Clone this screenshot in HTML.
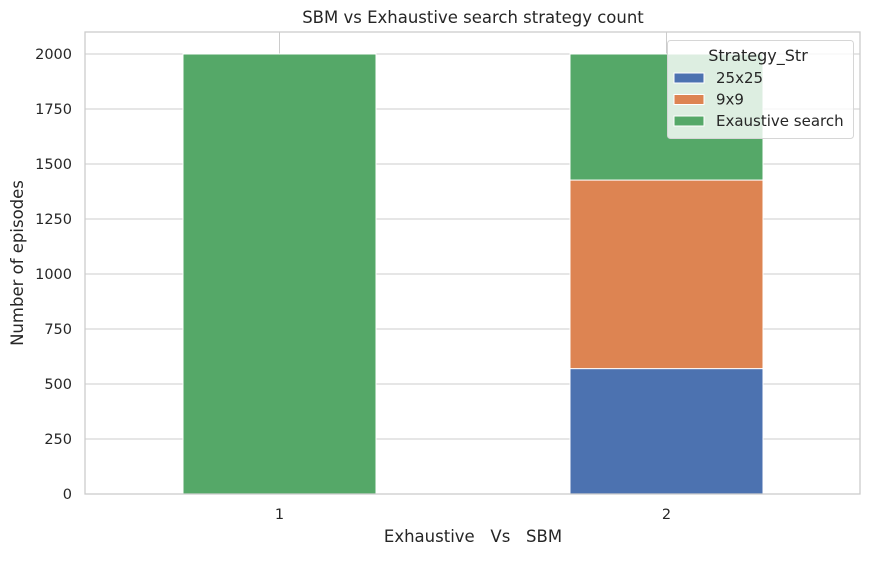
<!DOCTYPE html>
<html><head><meta charset="utf-8"><style>
body{margin:0;background:#fff;font-family:"Liberation Sans","DejaVu Sans",sans-serif;}
svg text{font-family:"DejaVu Sans","Liberation Sans",sans-serif;fill:#262626;}
</style></head><body>
<svg id="chart" width="870" height="556" xmlns="http://www.w3.org/2000/svg">
<text x="473" y="23" font-size="16.5" text-anchor="middle">SBM vs Exhaustive search strategy count</text>
<g id="grid"></g><g id="bars"></g><g id="axes"></g>
<text x="473" y="542" font-size="16.5" text-anchor="middle" xml:space="preserve">Exhaustive   Vs   SBM</text>
<text transform="translate(23,263) rotate(-90)" font-size="16.5" text-anchor="middle">Number of episodes</text>
<g id="legend"></g>
</svg>
<script>
const categories=["1","2"];
const s25x25=[0,570];
const s9x9=[0,857];
const sExhaustive=[2000,573];
const seriesNames=["25x25","9x9","Exaustive search"];
const seriesColors=["#4c72b0","#dd8452","#55a868"];
const yTicks=[0,250,500,750,1000,1250,1500,1750,2000];
const L=85,R=860,T=32,B=494;
const y=v=>B-v*(440/2000);
const x=i=>279.5+i*387;
const bw=193;
const NS="http://www.w3.org/2000/svg";
function mk(tag,attrs,parent){const e=document.createElementNS(NS,tag);for(const k in attrs)e.setAttribute(k,attrs[k]);parent.appendChild(e);return e;}
const grid=document.getElementById('grid'),bars=document.getElementById('bars'),axes=document.getElementById('axes'),leg=document.getElementById('legend');
yTicks.forEach(t=>{
  const l=mk('line',{x1:L,x2:R,y1:y(t),y2:y(t),stroke:'#cccccc','stroke-width':1},grid);
  
  
  const tx=mk('text',{x:L-13,y:y(t)+5,'font-size':14.5,'text-anchor':'end'},axes);
  tx.textContent=t;
  
  
});
categories.forEach((c,i)=>{
  const l=mk('line',{x1:x(i),x2:x(i),y1:T,y2:B,stroke:'#cccccc','stroke-width':1},grid);
  
  
  const tx=mk('text',{x:x(i),y:B+25,'font-size':14.5,'text-anchor':'middle'},axes);
  tx.textContent=c;
  
  
});
const series=[s25x25,s9x9,sExhaustive];
categories.forEach((c,i)=>{
  let base=0;
  series.forEach((s,k)=>{
    const v=s[i]; if(v<=0)return;
    const r=mk('rect',{x:x(i)-bw/2,y:y(base+v),width:bw,height:y(base)-y(base+v),fill:seriesColors[k],stroke:'#fff','stroke-width':1},bars);
    
    
    base+=v;
  });
});
const fr=mk('rect',{x:L,y:T,width:R-L,height:B-T,fill:'none',stroke:'#cccccc','stroke-width':1.3},axes);


const bx=mk('rect',{x:667.5,y:40.5,width:186,height:98,rx:3,fill:'rgba(255,255,255,0.8)',stroke:'#d6d6d6'},leg);


const lt=mk('text',{x:758,y:61,'font-size':16,'text-anchor':'middle'},leg);
lt.textContent='Strategy_Str';


seriesNames.forEach((n,k)=>{
  const g=mk('g',{},leg);
  
  
  const yy=78+k*21.5;
  mk('rect',{x:674,y:yy-5,width:30,height:10,fill:seriesColors[k],stroke:'#fff'},g);
  const t=mk('text',{x:716,y:yy+5,'font-size':15},g);
  t.textContent=n;
});
</script>
</body></html>
